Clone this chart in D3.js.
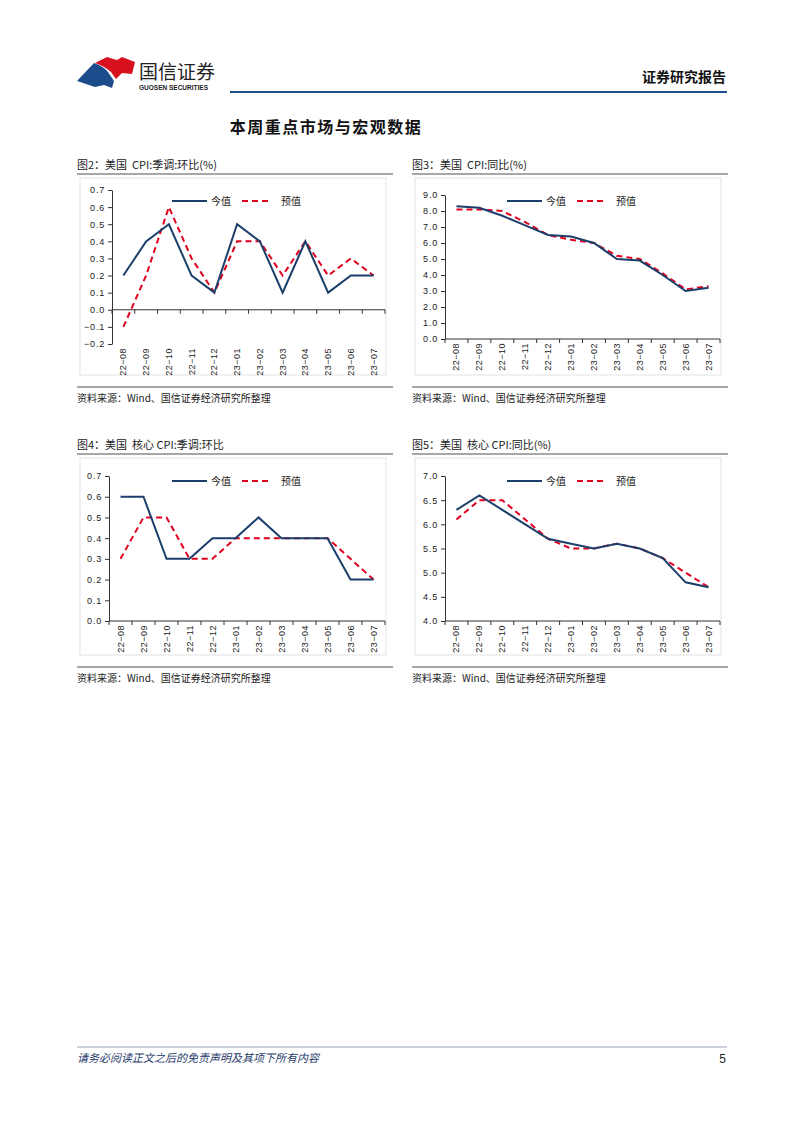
<!DOCTYPE html>
<html><head><meta charset="utf-8">
<script src="https://cdn.jsdelivr.net/npm/d3@7"></script>
<style>
html,body{margin:0;padding:0;background:#fff;}
svg text{font-family:"Noto Sans CJK SC","Noto Sans",sans-serif;}
</style></head>
<body>
<svg id="page" width="802" height="1133"></svg>
<script>
// ---- data ----
const months = ["22-08","22-09","22-10","22-11","22-12","23-01","23-02","23-03","23-04","23-05","23-06","23-07"];
const cpiMomActual   = [0.2,0.4,0.5,0.2,0.1,0.5,0.4,0.1,0.4,0.1,0.2,0.2];
const cpiMomExpected = [-0.1,0.2,0.6,0.3,0.1,0.4,0.4,0.2,0.4,0.2,0.3,0.2];
const cpiYoyActual   = [8.3,8.2,7.7,7.1,6.5,6.4,6.0,5.0,4.9,4.0,3.0,3.2];
const cpiYoyExpected = [8.1,8.1,8.0,7.3,6.5,6.2,6.0,5.2,5.0,4.1,3.1,3.3];
const coreMomActual   = [0.6,0.6,0.3,0.3,0.4,0.4,0.5,0.4,0.4,0.4,0.2,0.2];
const coreMomExpected = [0.3,0.5,0.5,0.3,0.3,0.4,0.4,0.4,0.4,0.4,0.3,0.2];
const coreYoyActual   = [6.3,6.6,6.3,6.0,5.7,5.6,5.5,5.6,5.5,5.3,4.8,4.7];
const coreYoyExpected = [6.1,6.5,6.5,6.1,5.7,5.5,5.5,5.6,5.5,5.3,5.0,4.7];
const ticksCpiMom  = [-0.2,-0.1,0.0,0.1,0.2,0.3,0.4,0.5,0.6,0.7];
const ticksCpiYoy  = [0,1,2,3,4,5,6,7,8,9];
const ticksCoreMom = [0,0.1,0.2,0.3,0.4,0.5,0.6,0.7];
const ticksCoreYoy = [4.0,4.5,5.0,5.5,6.0,6.5,7.0];
const seriesNames = ["今值","预值"];
const panelTitles = ["图2：美国  CPI:季调:环比(%)","图3：美国  CPI:同比(%)","图4：美国  核心 CPI:季调:环比","图5：美国  核心 CPI:同比(%)"];
const sourceText = "资料来源：Wind、国信证券经济研究所整理";

const svg = d3.select("#page");
const NAVY = "#1B3F6B", RED = "#E0001E";

// ---- header ----
svg.append("path").attr("d","M95,63 L107,57 L117,60 L122,57 L135,62 L132,74 L122,73 L116,79 L111,72 Q104,66 95,63 Z").attr("fill","#D7121E");
svg.append("path").attr("d","M77,81 L94,63 Q106,67 110,75 L114,81 L112,88 L104,85 L95,87 Z").attr("fill","#1D4C8C");
svg.append("text").attr("x",139).attr("y",79).attr("font-size",19).attr("fill","#222").text("国信证券");
svg.append("text").attr("x",139).attr("y",90).attr("font-size",6.5).attr("font-weight","bold").attr("fill","#222")
  .style("font-family","Liberation Sans, Arial").text("GUOSEN SECURITIES");
svg.append("text").attr("x",726).attr("y",82).attr("text-anchor","end").attr("font-size",14).attr("font-weight","bold").attr("fill","#111").text("证券研究报告");
svg.append("line").attr("x1",230).attr("x2",727).attr("y1",92).attr("y2",92).attr("stroke","#1F4E8C").attr("stroke-width",2);

svg.append("text").attr("x",326).attr("y",133).attr("text-anchor","middle").attr("font-size",16).attr("font-weight","bold")
  .attr("letter-spacing",1.5).attr("fill","#111").text("本周重点市场与宏观数据");

// ---- panels ----
function panel(o){
  const g = svg.append("g");
  g.append("text").attr("x",o.px).attr("y",o.top+5).attr("font-size",11).attr("fill","#222")
    .attr("xml:space","preserve").style("white-space","pre").text(o.title);
  g.append("line").attr("x1",o.px).attr("x2",o.px+316).attr("y1",o.top+10).attr("y2",o.top+10).attr("stroke","#8a8a8a").attr("stroke-width",1.5);
  g.append("rect").attr("x",o.px+3).attr("y",o.top+14).attr("width",306).attr("height",197)
    .attr("fill","none").attr("stroke","#e3e3e3").attr("stroke-width",1);
  g.append("line").attr("x1",o.px).attr("x2",o.px+316).attr("y1",o.top+223).attr("y2",o.top+223).attr("stroke","#8a8a8a").attr("stroke-width",1.5);
  g.append("text").attr("x",o.px).attr("y",o.top+238).attr("font-size",10).attr("fill","#222").text(sourceText);

  const x = d3.scaleBand().domain(months).range([o.x0,o.x1]);
  const y = d3.scaleLinear().domain(o.domain).range([o.yb,o.yt]);
  const ya = g.append("g").attr("transform",`translate(${o.x0},0)`)
    .call(d3.axisLeft(y).tickValues(o.ticks).tickFormat(d3.format(".1f")).tickSize(4).tickSizeOuter(0));
  ya.select(".domain").attr("stroke","#333");
  ya.selectAll(".tick line").attr("stroke","#333");
  ya.selectAll(".tick text").attr("font-size",9).attr("fill","#222").attr("letter-spacing",0.8)
    .style("font-family","Liberation Sans, Arial").text(d=>d3.format(".1f")(d).replace("-","−"));
  const base = y(Math.max(o.domain[0],0));
  g.append("line").attr("x1",o.x0).attr("x2",o.x1).attr("y1",base).attr("y2",base).attr("stroke","#333");
  const bounds = months.map(m=>x(m)).concat([o.x1]);
  g.selectAll(".xt").data(bounds).join("line").attr("x1",d=>d).attr("x2",d=>d).attr("y1",base).attr("y2",base+4).attr("stroke","#333");
  g.selectAll(".xl").data(months).join("text")
    .attr("transform",d=>`translate(${x(d)+x.bandwidth()/2+3},${o.yb+4}) rotate(-90)`)
    .attr("text-anchor","end").attr("font-size",9).attr("fill","#222").attr("letter-spacing",0.5)
    .style("font-family","Liberation Sans, Arial").text(d=>d.replace("-","−"));
  const line = d3.line().x((d,i)=>x(months[i])+x.bandwidth()/2).y(d=>y(d));
  g.append("path").datum(o.exp).attr("d",line).attr("fill","none").attr("stroke",RED).attr("stroke-width",2).attr("stroke-dasharray","6,4");
  g.append("path").datum(o.act).attr("d",line).attr("fill","none").attr("stroke",NAVY).attr("stroke-width",2);
  const ly = o.top+37;
  const lx = o.px+95;
  g.append("line").attr("x1",lx).attr("x2",lx+35).attr("y1",ly).attr("y2",ly).attr("stroke",NAVY).attr("stroke-width",2);
  g.append("text").attr("x",lx+39).attr("y",ly+4).attr("font-size",10).attr("fill","#222").text(seriesNames[0]);
  g.append("line").attr("x1",lx+70).attr("x2",lx+100).attr("y1",ly).attr("y2",ly).attr("stroke",RED).attr("stroke-width",2).attr("stroke-dasharray","6,4");
  g.append("text").attr("x",lx+109).attr("y",ly+4).attr("font-size",10).attr("fill","#222").text(seriesNames[1]);
}

panel({px:77, top:164, title:panelTitles[0], x0:112, x1:385, yt:190, yb:344, domain:[-0.2,0.7], ticks:ticksCpiMom, act:cpiMomActual, exp:cpiMomExpected});
panel({px:412, top:164, title:panelTitles[1], x0:445, x1:720, yt:195, yb:339, domain:[0,9], ticks:ticksCpiYoy, act:cpiYoyActual, exp:cpiYoyExpected});
panel({px:77, top:444, title:panelTitles[2], x0:109, x1:385, yt:476, yb:621, domain:[0,0.7], ticks:ticksCoreMom, act:coreMomActual, exp:coreMomExpected});
panel({px:412, top:444, title:panelTitles[3], x0:445, x1:720, yt:476, yb:621, domain:[4,7], ticks:ticksCoreYoy, act:coreYoyActual, exp:coreYoyExpected});

// ---- footer ----
svg.append("line").attr("x1",77).attr("x2",727).attr("y1",1047).attr("y2",1047).attr("stroke","#9aa6b8").attr("stroke-width",1);
svg.append("text").attr("x",77).attr("y",1062).attr("font-size",11).attr("font-style","italic").attr("fill","#1F3A6B")
  .text("请务必阅读正文之后的免责声明及其项下所有内容");
svg.append("text").attr("x",726).attr("y",1063).attr("text-anchor","end").attr("font-size",12).attr("fill","#222")
  .style("font-family","Liberation Sans, Arial").text("5");
</script>
</body></html>
